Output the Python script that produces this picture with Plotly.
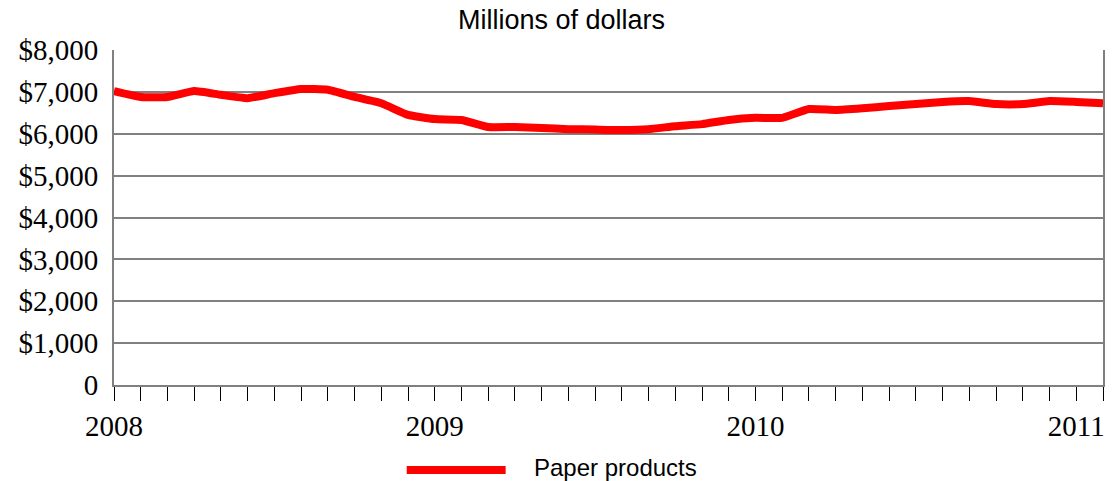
import plotly.graph_objects as go

# Monthly values, Jan 2008 .. Feb 2011 (millions of dollars)
months = ["2008-01","2008-02","2008-03","2008-04","2008-05","2008-06","2008-07","2008-08","2008-09","2008-10","2008-11","2008-12",
          "2009-01","2009-02","2009-03","2009-04","2009-05","2009-06","2009-07","2009-08","2009-09","2009-10","2009-11","2009-12",
          "2010-01","2010-02","2010-03","2010-04","2010-05","2010-06","2010-07","2010-08","2010-09","2010-10","2010-11","2010-12",
          "2011-01","2011-02"]
paper_products = [7020, 6880, 6880, 7020, 6930, 6850, 6970, 7070, 7050, 6880, 6730, 6450,
                  6350, 6330, 6160, 6160, 6140, 6110, 6100, 6090, 6110, 6180, 6230, 6330,
                  6380, 6380, 6590, 6570, 6610, 6660, 6710, 6760, 6780, 6710, 6710, 6780,
                  6760, 6730]
y_tickvals = [0, 1000, 2000, 3000, 4000, 5000, 6000, 7000, 8000]
y_ticktext = ["0", "$1,000", "$2,000", "$3,000", "$4,000", "$5,000", "$6,000", "$7,000", "$8,000"]
year_labels = {"2008-01": "2008", "2009-01": "2009", "2010-01": "2010", "2011-01": "2011"}

idx = list(range(len(months)))
x_ticktext = [year_labels.get(m, "") for m in months]

fig = go.Figure()
fig.add_trace(go.Scatter(
    x=idx, y=paper_products, mode="lines", name="Paper products",
    line=dict(color="#FF0000", width=8, shape="spline", smoothing=0.4),
    showlegend=False,
))

serif = dict(family="Liberation Serif", size=29, color="black")

fig.update_layout(
    width=1112, height=481,
    margin=dict(l=114, r=7, t=50, b=96),
    paper_bgcolor="white", plot_bgcolor="white",
    xaxis=dict(
        range=[0, len(months) - 1], tickmode="array", tickvals=idx, ticktext=x_ticktext,
        ticks="outside", ticklen=14, tickwidth=1, tickcolor="black",
        showgrid=False, zeroline=False, showline=True, linecolor="#808080", linewidth=2,
        tickfont=serif,
    ),
    yaxis=dict(
        range=[0, 8000], tickmode="array", tickvals=y_tickvals, ticktext=y_ticktext,
        showgrid=True, gridcolor="#808080", gridwidth=2, zeroline=False,
        showline=True, linecolor="#808080", linewidth=2, mirror=True, ticks="",
        ticklabelstandoff=8,
        tickfont=serif,
    ),
    annotations=[
        dict(text="Millions of dollars", xref="paper", yref="paper", x=0.4524, y=1.0, yshift=30,
             showarrow=False, xanchor="center", yanchor="middle",
             font=dict(family="Liberation Sans", size=27, color="black")),
        dict(text="Paper products", xref="paper", yref="paper", x=0.424, y=0, yshift=-82,
             showarrow=False, xanchor="left", yanchor="middle", borderpad=0,
             font=dict(family="Liberation Sans", size=24, color="black")),
    ],
    shapes=[
        dict(type="line", xref="paper", yref="paper", x0=0.296, x1=0.396, y0=0, y1=0,
             line=dict(color="#FF0000", width=8)),
    ],
)
fig.layout.shapes[0].update(ysizemode="pixel", yanchor=0, y0=-85, y1=-85)

fig.write_html("out.html")
